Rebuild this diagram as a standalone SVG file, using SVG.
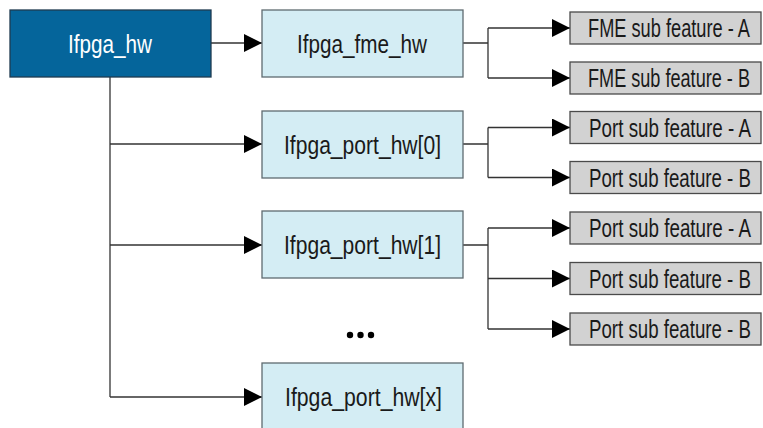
<svg xmlns="http://www.w3.org/2000/svg" width="763" height="428" viewBox="0 0 763 428">
  <style>
    .root { fill: #05659b; stroke: #1f3b50; stroke-width: 1.3; }
    .hw { fill: #d4edf4; stroke: #5f6b70; stroke-width: 1.3; }
    .sub { fill: #d2d2d2; stroke: #4a4a4a; stroke-width: 1.3; }
    .lbl { font-family: "Liberation Sans", Arial, sans-serif; font-size: 26px; fill: #1a1a1a; }
    .lbl.w { fill: #ffffff; }
    .wire { fill: none; stroke: #333333; stroke-width: 1.3; }
  </style>
  <defs>
    <marker id="arrow" markerUnits="userSpaceOnUse" markerWidth="18" markerHeight="18" refX="18" refY="9" orient="auto">
      <path d="M0,0 L18,9 L0,18 Z" fill="#000000"/>
    </marker>
  </defs>

  <!-- connectors -->
  <g id="connectors">
    <!-- top-level trunk -->
    <path class="wire" d="M110,77 V397"/>
    <path class="wire" d="M211,43 H262" marker-end="url(#arrow)"/>
    <path class="wire" d="M110,144 H262" marker-end="url(#arrow)"/>
    <path class="wire" d="M110,245 H262" marker-end="url(#arrow)"/>
    <path class="wire" d="M110,397 H262" marker-end="url(#arrow)"/>
    <!-- fme sub features -->
    <path class="wire" d="M463,43 H488 M488,28 V78"/>
    <path class="wire" d="M488,28 H570" marker-end="url(#arrow)"/>
    <path class="wire" d="M488,78 H570" marker-end="url(#arrow)"/>
    <!-- port 0 sub features -->
    <path class="wire" d="M463,144 H488 M488,127.5 V177.5"/>
    <path class="wire" d="M488,127.5 H570" marker-end="url(#arrow)"/>
    <path class="wire" d="M488,177.5 H570" marker-end="url(#arrow)"/>
    <!-- port 1 sub features -->
    <path class="wire" d="M463,245 H488 M488,228 V329"/>
    <path class="wire" d="M488,228 H570" marker-end="url(#arrow)"/>
    <path class="wire" d="M488,278.5 H570" marker-end="url(#arrow)"/>
    <path class="wire" d="M488,329 H570" marker-end="url(#arrow)"/>
  </g>

  <!-- labels use a horizontal squeeze to get a condensed face -->
  <g id="ifpga_hw">
    <rect class="root" x="10" y="10" width="201" height="67"/>
    <text class="lbl w" transform="translate(68,52.5) scale(0.7,1)" textLength="120" lengthAdjust="spacingAndGlyphs">Ifpga_hw</text>
  </g>

  <g id="ifpga_fme_hw">
    <rect class="hw" x="262" y="10" width="201" height="67"/>
    <text class="lbl" transform="translate(297,52.5) scale(0.7,1)" textLength="185.7" lengthAdjust="spacingAndGlyphs">Ifpga_fme_hw</text>
  </g>

  <g id="ifpga_port_hw_0">
    <rect class="hw" x="262" y="111" width="201" height="67"/>
    <text class="lbl" transform="translate(284,153.5) scale(0.7,1)" textLength="224.3" lengthAdjust="spacingAndGlyphs">Ifpga_port_hw[0]</text>
  </g>

  <g id="ifpga_port_hw_1">
    <rect class="hw" x="262" y="211" width="201" height="67"/>
    <text class="lbl" transform="translate(284,253.5) scale(0.7,1)" textLength="224.3" lengthAdjust="spacingAndGlyphs">Ifpga_port_hw[1]</text>
  </g>

  <g id="ellipsis">
    <circle cx="350" cy="335" r="3.2" fill="#000"/>
    <circle cx="360.5" cy="335" r="3.2" fill="#000"/>
    <circle cx="371" cy="335" r="3.2" fill="#000"/>
  </g>

  <g id="ifpga_port_hw_x">
    <rect class="hw" x="262" y="363" width="201" height="70"/>
    <text class="lbl" transform="translate(285,405.5) scale(0.7,1)" textLength="224.3" lengthAdjust="spacingAndGlyphs">Ifpga_port_hw[x]</text>
  </g>

  <g id="fme_sub_a">
    <rect class="sub" x="570" y="12" width="191" height="32"/>
    <text class="lbl" transform="translate(588,37) scale(0.7,1)" textLength="231.4" lengthAdjust="spacingAndGlyphs">FME sub feature - A</text>
  </g>
  <g id="fme_sub_b">
    <rect class="sub" x="570" y="62" width="191" height="32"/>
    <text class="lbl" transform="translate(588,87) scale(0.7,1)" textLength="231.4" lengthAdjust="spacingAndGlyphs">FME sub feature - B</text>
  </g>

  <g id="port0_sub_a">
    <rect class="sub" x="570" y="111.5" width="191" height="32"/>
    <text class="lbl" transform="translate(589,136.5) scale(0.7,1)" textLength="231.4" lengthAdjust="spacingAndGlyphs">Port sub feature - A</text>
  </g>
  <g id="port0_sub_b">
    <rect class="sub" x="570" y="161.5" width="191" height="32"/>
    <text class="lbl" transform="translate(589,186.5) scale(0.7,1)" textLength="231.4" lengthAdjust="spacingAndGlyphs">Port sub feature - B</text>
  </g>

  <g id="port1_sub_a">
    <rect class="sub" x="570" y="212" width="191" height="32"/>
    <text class="lbl" transform="translate(589,237) scale(0.7,1)" textLength="231.4" lengthAdjust="spacingAndGlyphs">Port sub feature - A</text>
  </g>
  <g id="port1_sub_b">
    <rect class="sub" x="570" y="262.5" width="191" height="32"/>
    <text class="lbl" transform="translate(589,287.5) scale(0.7,1)" textLength="231.4" lengthAdjust="spacingAndGlyphs">Port sub feature - B</text>
  </g>
  <g id="port1_sub_c">
    <rect class="sub" x="570" y="313" width="191" height="32"/>
    <text class="lbl" transform="translate(589,338) scale(0.7,1)" textLength="231.4" lengthAdjust="spacingAndGlyphs">Port sub feature - B</text>
  </g>
</svg>
